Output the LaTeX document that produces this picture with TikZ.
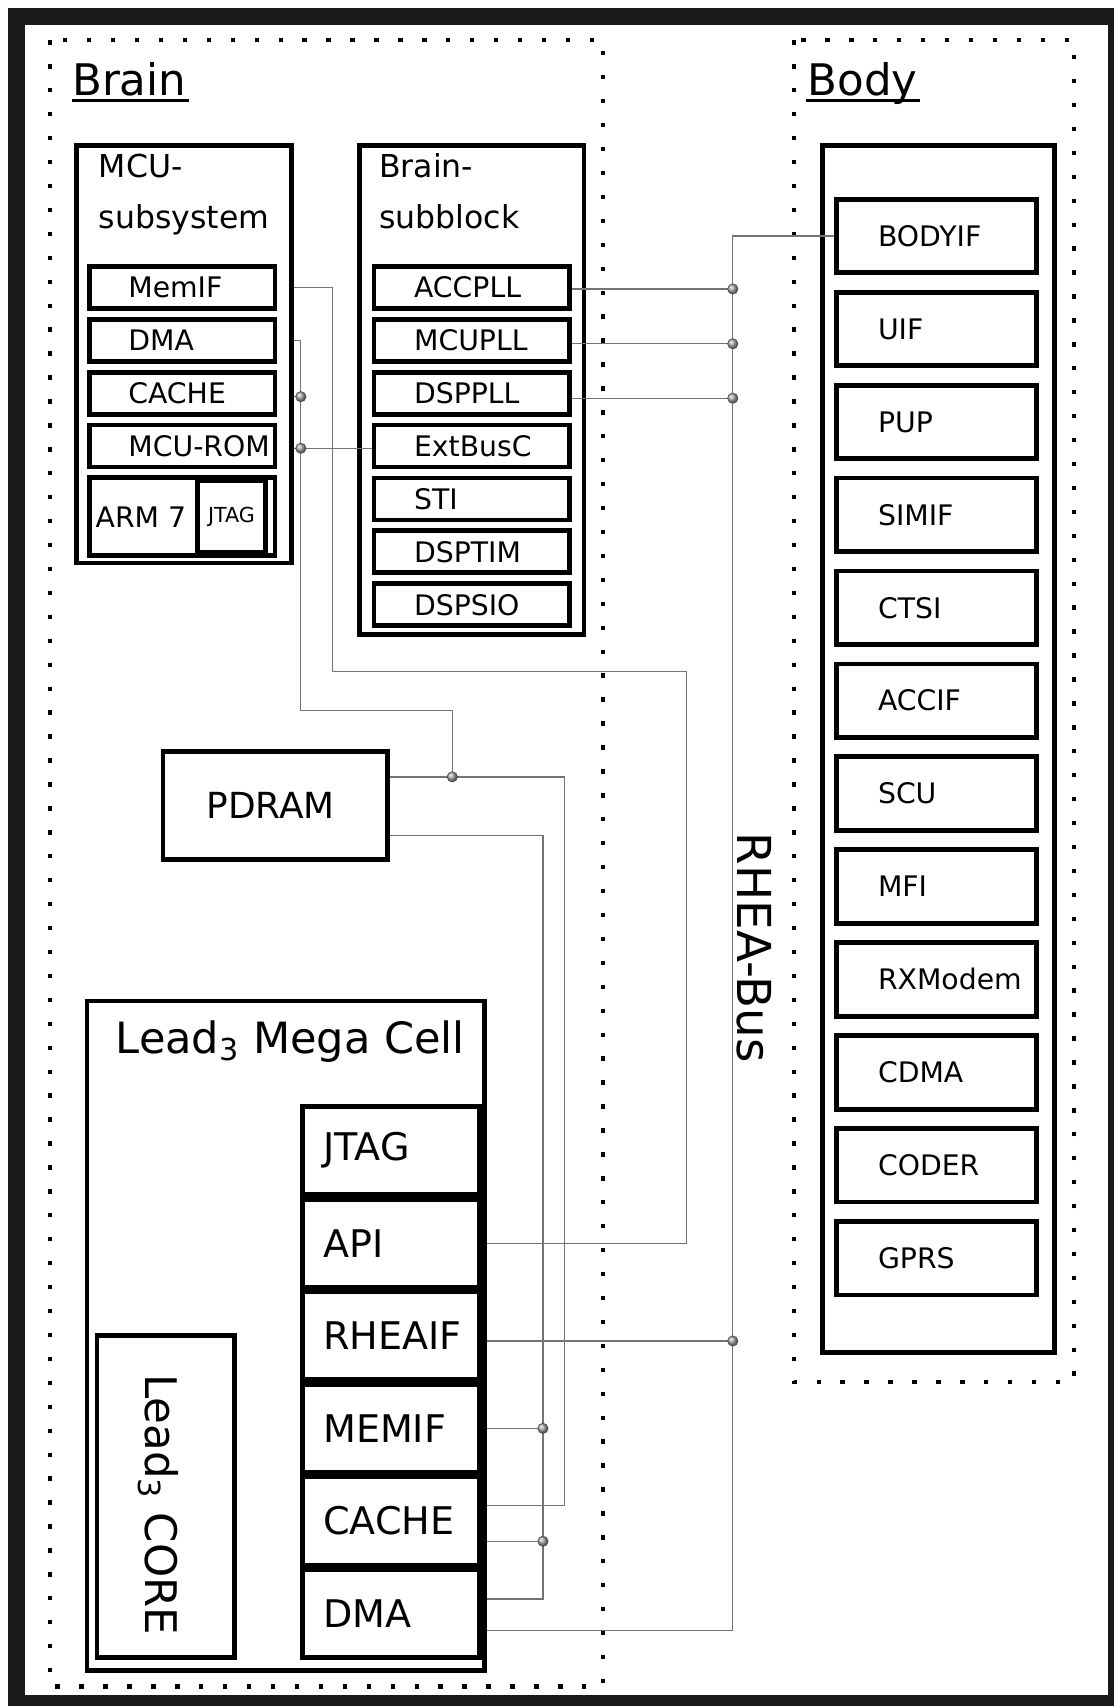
\documentclass[tikz,border=0pt]{standalone}
\usepackage{fontspec}
\setmainfont{DejaVu Sans}
\usetikzlibrary{calc}
\begin{document}
\begin{tikzpicture}[x=0.5pt,y=-0.5pt,
  box/.style={draw=black, line width=2.2pt, rectangle, inner sep=0pt},
  mrow/.style={box, minimum height=19.3pt, inner xsep=17.9pt, text width=49.5pt, align=left, font=\fontsize{13}{15}\selectfont},
  brow/.style={box, minimum height=19.3pt, inner xsep=18.45pt, text width=53pt, align=left, font=\fontsize{13}{15}\selectfont},
  yrow/.style={box, minimum height=33.8pt, inner xsep=19.15pt, text width=53.75pt, align=left, font=\fontsize{13}{15}\selectfont},
  lrow/.style={box, minimum height=40.35pt, inner xsep=9.4pt, text width=62.5pt, align=left, font=\fontsize{17.5}{20}\selectfont},
  title/.style={inner sep=0pt, anchor=base west, font=\fontsize{20}{24}\selectfont},
  subt/.style={inner sep=0pt, anchor=base west, font=\fontsize{14.5}{17}\selectfont},
  dotbox/.style={line width=2pt, dash pattern=on 2pt off 9pt},
  wire/.style={draw=gray!90!black, line width=0.6pt},
  jdot/.style={circle, inner sep=0pt, minimum size=4.8pt, ball color=gray!70, draw=gray!50!black, line width=0.2pt},
  uline/.style={line width=1.4pt}
]
\useasboundingbox (0,0) rectangle (1024,1568);
\fill[black!90] (7.4,7.4) rectangle (1024,1568);
\fill[white] (23,23) rectangle (1018.5,1558);

% dotted regions
\draw[dotbox] (46,37) rectangle (554,1550);
\draw[dotbox] (729.5,37) rectangle (987,1270);

% titles
\node[title] (brain) at (66,88) {Brain};
\draw[uline] ($(brain.base west)+(0,4)$) -- ($(brain.base east)+(2,4)$);
\node[title] (body) at (742,88) {Body};
\draw[uline] ($(body.base west)+(-1,4)$) -- ($(body.base east)+(2,4)$);

% MCU subsystem
\node[box, minimum width=98.75pt, minimum height=192pt] (mcu) at (169.05,325.5) {};
\node[subt] (mcut1) at (90.5,163.6) {MCU-};
\node[subt] (mcut2) at (90.5,210) {subsystem};
\node[mrow] (mmemif) at (167.5,264.2) {MemIF};
\node[mrow] (mdma) at (167.5,312.8) {DMA};
\node[mrow] (mcache) at (167.5,361.4) {CACHE};
\node[mrow] (mrom) at (167.5,410) {\mbox{MCU-ROM}};
\node[box, minimum width=85.3pt, minimum height=35.8pt] (armrow) at (167.5,475) {};
\node[inner sep=0pt, font=\fontsize{13}{15}\selectfont] (arm) at (129.5,475.5) {ARM 7};
\node[box, minimum width=31.55pt, minimum height=32.95pt, font=\fontsize{9.5}{11}\selectfont] (mjtag) at (212.75,474.85) {JTAG};

% Brain subblock
\node[box, minimum width=103.3pt, minimum height=224.85pt] (bsub) at (433.5,358.35) {};
\node[subt] (bsubt1) at (348,163.6) {Brain-};
\node[subt] (bsubt2) at (348,210) {subblock};
\node[brow] (baccpll) at (433.6,264.2) {ACCPLL};
\node[brow] (bmcupll) at (433.6,312.8) {MCUPLL};
\node[brow] (bdsppll) at (433.6,361.4) {DSPPLL};
\node[brow] (bext) at (433.6,410) {ExtBusC};
\node[brow] (bsti) at (433.6,458.6) {STI};
\node[brow] (bdsptim) at (433.6,507.2) {DSPTIM};
\node[brow] (bdspsio) at (433.6,555.8) {DSPSIO};

% Body
\node[box, minimum width=106.9pt, minimum height=554.5pt] (bodybox) at (862.6,688.5) {};
\node[yrow] (ybodyif) at (860.75,217) {BODYIF};
\node[yrow] (yuif) at (860.75,302.4) {UIF};
\node[yrow] (ypup) at (860.75,387.8) {PUP};
\node[yrow] (ysimif) at (860.75,473.2) {SIMIF};
\node[yrow] (yctsi) at (860.75,558.6) {CTSI};
\node[yrow] (yaccif) at (860.75,644) {ACCIF};
\node[yrow] (yscu) at (860.75,729.4) {SCU};
\node[yrow] (ymfi) at (860.75,814.8) {MFI};
\node[yrow] (yrx) at (860.75,900.2) {RXModem};
\node[yrow] (ycdma) at (860.75,985.6) {CDMA};
\node[yrow] (ycoder) at (860.75,1071) {CODER};
\node[yrow] (ygprs) at (860.75,1156.4) {GPRS};

% PDRAM
\node[box, minimum width=103.2pt, minimum height=49.55pt, inner xsep=20pt, text width=63.2pt, align=left, font=\fontsize{16.5}{19}\selectfont] (pdram) at (253.1,740.25) {PDRAM};

% Lead3 Mega Cell
\node[box, minimum width=182.5pt, minimum height=307.75pt] (mega) at (262.5,1227.75) {};
\node[title, font=\fontsize{19.8}{24}\selectfont] (megat) at (106,968) {Lead\textsubscript{3} Mega Cell};
\node[lrow] (ljtag) at (359.5,1057.55) {JTAG};
\node[lrow] (lapi) at (359.5,1142.65) {API};
\node[lrow] (lrheaif) at (359.5,1227.75) {RHEAIF};
\node[lrow] (lmemif) at (359.5,1312.85) {MEMIF};
\node[lrow] (lcache) at (359.5,1397.95) {CACHE};
\node[lrow] (ldma) at (359.5,1483.05) {DMA};
\node[box, minimum width=63.3pt, minimum height=148.05pt] (core) at (152.5,1375.25) {};
\node[inner sep=0pt, anchor=base, rotate=-90, font=\fontsize{20}{24}\selectfont] (coret) at (134,1383) {Lead\textsubscript{3} CORE};

% RHEA bus label
\node[inner sep=0pt, anchor=base, rotate=-90, font=\fontsize{21.5}{24}\selectfont] (rhea) at (678,871) {RHEA-Bus};

% connectors
\coordinate (busx) at (673.5,0);
\coordinate (c1) at (305.5,617);
\coordinate (c2) at (631,617);
\coordinate (c3) at (276.5,653);
\coordinate (jpd) at (415.7,714);
\coordinate (c4) at (519,714);
\coordinate (c5) at (499,768);
\coordinate (jc) at (276.5,364.6);
\coordinate (jr) at (276.5,412);
\coordinate (jm) at (c5 |- lmemif);
\coordinate (jcl) at ($(c5 |- lcache)+(0,18.65)$);
\coordinate (ldl) at ($(mega.east |- ldma)+(0,15.45)$);
\coordinate (ja) at ($(busx |- baccpll)+(0,1.4)$);
\coordinate (jb) at ($(busx |- bmcupll)+(0,3.2)$);
\coordinate (jd) at ($(busx |- bdsppll)+(0,4.6)$);
\coordinate (jh) at ($(busx |- lrheaif)+(0,4.75)$);

\draw[wire] (mcu.east |- mmemif) -| (c1) -- (c2) |- (mega.east |- lapi);
\draw[wire] (mcu.east |- mdma) -| (c3) -| (jpd);
\draw[wire] (mcu.east |- jc) -- (jc);
\draw[wire] (mcu.east |- jr) -- (bext.west |- jr);
\draw[wire] (pdram.east |- jpd) -- (c4) |- ($(mega.east |- lcache)+(0,-14.45)$);
\draw[wire] (pdram.east |- c5) -- (c5) |- ($(mega.east |- ldma)+(0,-13.35)$);
\draw[wire] (mega.east |- jm) -- (jm);
\draw[wire] (mega.east |- jcl) -- (jcl);
\draw[wire] (ybodyif.west) -| (busx |- ldl) -- (ldl);
\draw[wire] (baccpll.east |- ja) -- (ja);
\draw[wire] (bmcupll.east |- jb) -- (jb);
\draw[wire] (bdsppll.east |- jd) -- (jd);
\draw[wire] (mega.east |- jh) -- (jh);

\foreach \j in {jc,jr,jpd,jm,jcl,ja,jb,jd,jh}
  \node[jdot] (d\j) at (\j) {};
\end{tikzpicture}
\end{document}
